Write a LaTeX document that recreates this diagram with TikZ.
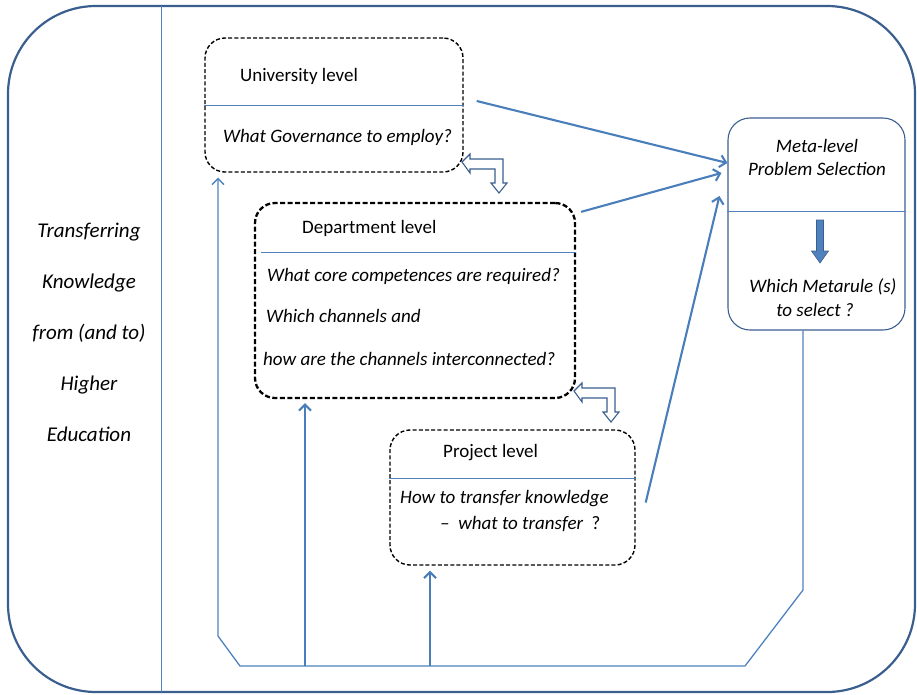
\documentclass[tikz,border=0pt]{standalone}
\usepackage{fontspec}
\setmainfont{Carlito}
\usetikzlibrary{arrows.meta}

\definecolor{frameblue}{HTML}{3A5F8F}
\definecolor{lineblue}{HTML}{4F81BD}
\definecolor{arrowblue}{HTML}{4A7EBB}

\tikzset{
  levelbox/.style={draw=black, dash pattern=on 4pt off 2.2pt, line width=1.4pt,
    rounded corners=20pt, inner sep=0pt},
  lbl/.style={anchor=west, inner sep=0pt, font=\fontsize{19}{23}\selectfont},
  qlbl/.style={lbl, font=\fontsize{19}{23}\selectfont\itshape},
  flow/.style={draw=arrowblue, line width=2.1pt, -{Straight Barb[length=6pt,width=12pt]}},
  thinflow/.style={draw=lineblue, line width=1.3pt},
  sep/.style={draw=lineblue, line width=0.9pt},
  turnarrow/.pic={
    \draw[draw=frameblue, fill=white, line width=1.1pt, line join=miter]
      (0,0) -- (8,-8) -- (8,-3) -- (41,-3) -- (41,21) -- (45,21) -- (37,31)
      -- (29,21) -- (33,21) -- (33,7) -- (8,7) -- (8,11) -- cycle;
  }
}

\begin{document}
\begin{tikzpicture}[x=1pt, y=-1pt]
  \useasboundingbox (0,0) rectangle (917,694);
  % outer frame and divider
  \draw[frameblue, line width=2.2pt, rounded corners=88pt] (8,6) rectangle (915,692);
  \draw[lineblue, line width=1pt] (161,6) -- (161,692);

  \node[align=center, inner sep=0pt, font=\fontsize{21}{51}\selectfont\itshape] (topic) at (89,332)
    {Transferring\\Knowledge\\from (and to)\\Higher\\Education};

  % level boxes
  \node[levelbox, minimum width=258pt, minimum height=134pt] (uni) at (334,105) {};
  \node[levelbox, line width=2.3pt, dash pattern=on 5pt off 2.5pt,
        minimum width=320pt, minimum height=195pt] (dept) at (415,300.5) {};
  \node[levelbox, minimum width=245pt, minimum height=135pt] (proj) at (512.5,497.5) {};
  \node[draw=frameblue, line width=1.1pt, rounded corners=22pt, inner sep=0pt,
        minimum width=177pt, minimum height=212pt] (meta) at (816.5,224) {};

  % separators
  \draw[sep] (uni.west) -- (uni.east);
  \draw[sep] ([xshift=7pt]dept.west |- 0,252) -- (dept.east |- 0,252);
  \draw[sep] (proj.west |- 0,478) -- (proj.east |- 0,478);
  \draw[sep] (meta.west |- 0,211) -- (meta.east |- 0,211);

  % texts
  \node[lbl] (unit) at (240,76) {University level};
  \node[qlbl] (uniq) at (223,137) {What Governance to employ?};
  \node[lbl] (deptt) at (302,228) {Department level};
  \node[qlbl] (deptq1) at (267,276) {What core competences are required?};
  \node[qlbl] (deptq2) at (266,316) {Which channels and};
  \node[qlbl] (deptq3) at (263,359) {how are the channels interconnected?};
  \node[lbl] (projt) at (443,453) {Project level};
  \node[qlbl] (projq1) at (400,499) {How to transfer knowledge};
  \node[qlbl] (projq2) at (440,524) {\textendash\ \ what to transfer\ \ \upshape ?};
  \node[align=center, inner sep=0pt, font=\fontsize{19}{23}\selectfont\itshape] (metat) at (817,157)
    {Meta-level\\Problem Selection};
  \node[qlbl, anchor=center] (metaq1) at (823,287) {Which Metarule (s)};
  \node[qlbl, anchor=center] (metaq2) at (815,310) {to select ?};

  % block arrow inside meta box
  \draw[draw=frameblue, fill=lineblue, line width=0.6pt]
    (816.5,220) -- (823.5,220) -- (823.5,251) -- (828.5,251) -- (820,263)
    -- (811.5,251) -- (816.5,251) -- cycle;

  % turn arrows between levels
  \pic at (462,162) {turnarrow};
  \pic at (574,391) {turnarrow};

  % arrows to the meta level
  \draw[flow] ([shift={(13,-4)}]uni.east) -- (meta.west |- 0,163);
  \draw[flow] ([shift={(5,10)}]dept.north east) -- ([shift={(-6,-51)}]meta.west);
  \draw[flow] ([shift={(10,5)}]proj.east) -- ([shift={(-8,-28)}]meta.west);

  % feedback loop at the bottom
  \coordinate (fr) at (803,590);
  \coordinate (br) at (745,666);
  \coordinate (bl) at (240,666);
  \coordinate (fl) at (218,636);
  \coordinate (dfoot) at (305,666);
  \coordinate (pfoot) at (430,666);
  \draw[thinflow, -{Straight Barb[length=6pt,width=12pt]}]
    ([xshift=-13.5pt]meta.south) -- (fr) -- (br) -- (bl) -- (fl) -- ([shift={(-116,5)}]uni.south);
  \draw[flow] (dfoot) -- ([yshift=-4pt]dept.south -| dfoot);
  \draw[flow] (pfoot) -- ([yshift=-5pt]proj.south -| pfoot);
\end{tikzpicture}
\end{document}
